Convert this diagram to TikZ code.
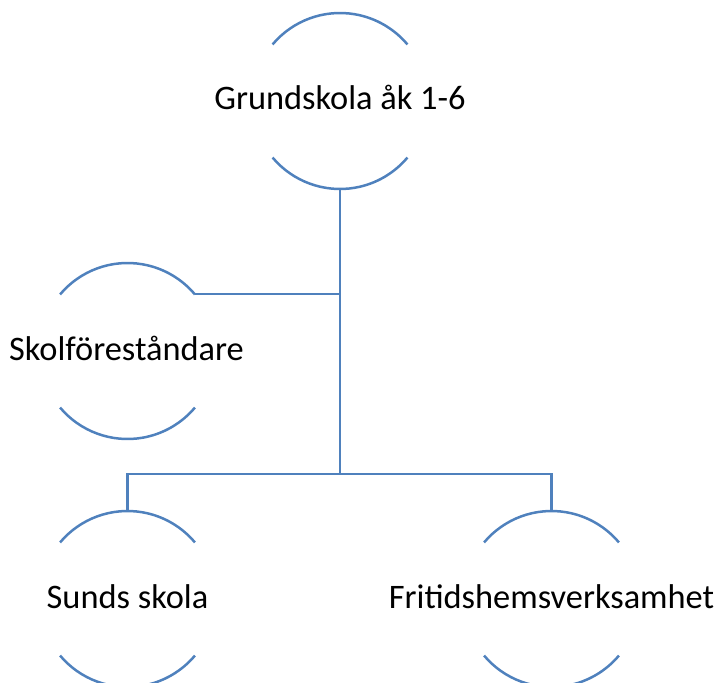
\documentclass[tikz,border=0pt]{standalone}
\usepackage{fontspec}
\setmainfont{Carlito}
\definecolor{linec}{RGB}{79,129,189}
\begin{document}
\begin{tikzpicture}[x=1bp,y=-1bp,
  arcline/.style={draw=linec,line width=2.5bp},
  conn/.style={draw=linec,line width=2.5bp},
  lbl/.style={inner sep=0pt,anchor=base,font=\fontsize{34.5}{38}\selectfont,text=black}]
\useasboundingbox (0,0) rectangle (719,683);
% circle centres (r = 88)
\coordinate (cA) at (340,101);
\coordinate (cB) at (127.5,351);
\coordinate (cC) at (127.5,599);
\coordinate (cD) at (551.5,599);
\foreach \c in {cA,cB,cC,cD}{
  \draw[arcline] (\c) ++(220:88) arc[start angle=220,end angle=320,radius=88];
  \draw[arcline] (\c) ++(140:88) arc[start angle=140,end angle=40,radius=88];
}
% labels
\node[lbl] (a) at (340,110) {Grundskola åk 1-6};
\node[lbl] (b) at (126.5,360) {Skolföreståndare};
\node[lbl] (c) at (127.5,608) {Sunds skola};
\node[lbl] (d) at (551.5,608) {Fritidshemsverksamhet};
% connector points
\coordinate (aBot) at (340,189);
\coordinate (bTopR) at (195,294);
\coordinate (jB) at (340,294);
\coordinate (jH) at (340,474);
\coordinate (cTop) at (127.5,511);
\coordinate (dTop) at (551.5,511);
\draw[conn] (aBot) -- (jH);
\draw[conn] (bTopR) -- (jB);
\draw[conn] (cTop) -- (cTop |- jH) -- (dTop |- jH) -- (dTop);
\end{tikzpicture}
\end{document}
